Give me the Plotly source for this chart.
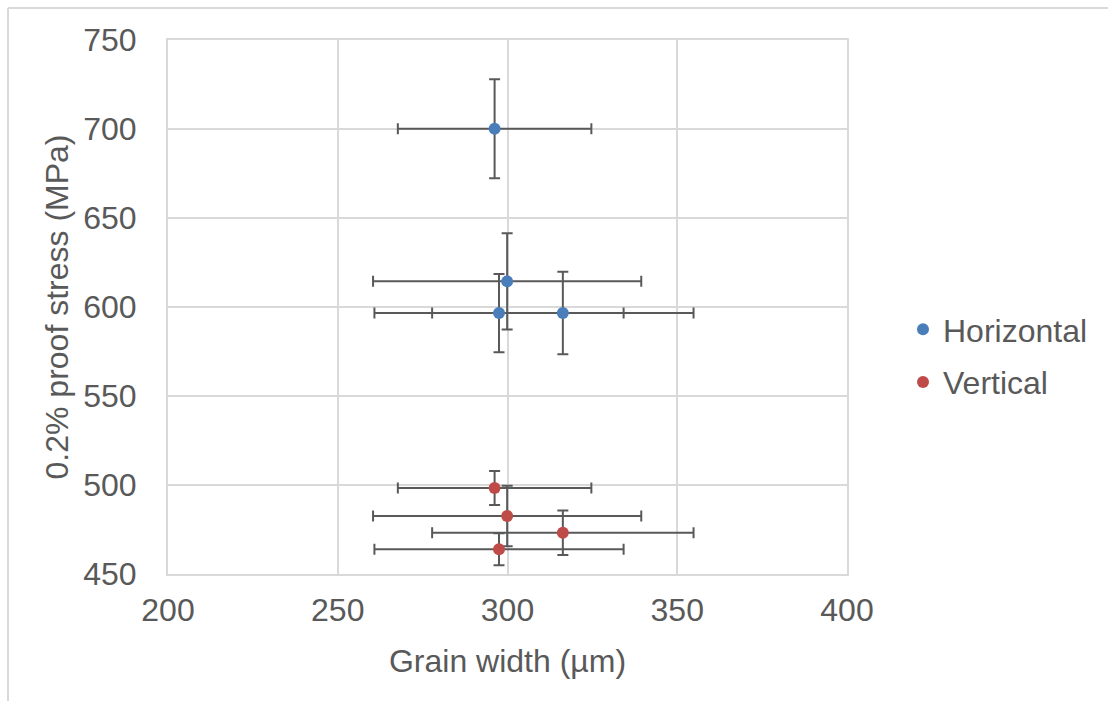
import plotly.graph_objects as go

# Grain width (µm) and 0.2% proof stress (MPa) with standard deviations
horiz_width = [296.2, 299.9, 297.5, 316.3]
horiz_width_err = [28.5, 39.5, 36.7, 38.5]
horiz_stress = [700.2, 614.4, 596.6, 596.6]
horiz_stress_err = [27.8, 27.1, 22.0, 23.2]

vert_width = [296.2, 299.9, 316.3, 297.5]
vert_width_err = [28.5, 39.5, 38.5, 36.7]
vert_stress = [498.3, 482.6, 473.2, 463.9]
vert_stress_err = [9.6, 17.0, 12.5, 9.0]

x_ticks = [200, 250, 300, 350, 400]
y_ticks = [450, 500, 550, 600, 650, 700, 750]

FONT = "Liberation Sans, Arial, sans-serif"
TEXT = "#595959"
GRID = "#d9d9d9"
ERR = "#595959"
FS = 32


def err(vals):
    return dict(type="data", array=vals, visible=True, color=ERR,
                thickness=2, width=5.5)


fig = go.Figure()
fig.add_trace(go.Scatter(
    x=horiz_width, y=horiz_stress, mode="markers", name="Horizontal",
    legendgroup="h",
    marker=dict(color="#4a7ebb", size=12),
    error_x=err(horiz_width_err), error_y=err(horiz_stress_err),
))
fig.add_trace(go.Scatter(
    x=vert_width, y=vert_stress, mode="markers", name="Vertical",
    legendgroup="v",
    marker=dict(color="#be4b48", size=12),
    error_x=err(vert_width_err), error_y=err(vert_stress_err),
))

L, R, T, B = 168, 261, 40, 127
W, H = 1108, 701
pw, ph = W - L - R, H - T - B

fig.update_layout(
    width=W, height=H,
    margin=dict(l=L, r=R, t=T, b=B, pad=0),
    paper_bgcolor="white", plot_bgcolor="white",
    font=dict(family=FONT, color=TEXT, size=FS),
    showlegend=True,
    legend=dict(
        x=(903 - L) / pw, xanchor="left",
        y=(H - B - 356) / ph, yanchor="middle",
        font=dict(size=FS, color=TEXT),
        traceorder="grouped", tracegroupgap=8,
        bgcolor="rgba(0,0,0,0)",
    ),
    xaxis=dict(
        range=[200, 400], tickvals=x_ticks, ticks="",
        showgrid=True, gridcolor=GRID, gridwidth=2,
        showline=True, linecolor=GRID, linewidth=2, mirror=True,
        zeroline=False, ticklabelstandoff=7,
        tickfont=dict(size=FS, color=TEXT),
        title=dict(text="Grain width (µm)", standoff=22,
                   font=dict(size=FS, color=TEXT)),
    ),
    yaxis=dict(
        range=[450, 750], tickvals=y_ticks, ticks="",
        showgrid=True, gridcolor=GRID, gridwidth=2,
        showline=True, linecolor=GRID, linewidth=2, mirror=True,
        zeroline=False, ticklabelstandoff=23,
        tickfont=dict(size=FS, color=TEXT),
        title=dict(text="0.2% proof stress (MPa)", standoff=5,
                   font=dict(size=FS, color=TEXT)),
    ),
)

# Outer chart frame (top and left edges)
fig.add_shape(type="line", xref="paper", yref="paper",
              x0=(8 - L) / pw, x1=(W + 5 - L) / pw,
              y0=(H - B - 8) / ph, y1=(H - B - 8) / ph,
              line=dict(color=GRID, width=2))
fig.add_shape(type="line", xref="paper", yref="paper",
              x0=(8 - L) / pw, x1=(8 - L) / pw,
              y0=(H - B - 8) / ph, y1=(H - B - H - 5) / ph,
              line=dict(color=GRID, width=2))

fig.write_html("out.html")
